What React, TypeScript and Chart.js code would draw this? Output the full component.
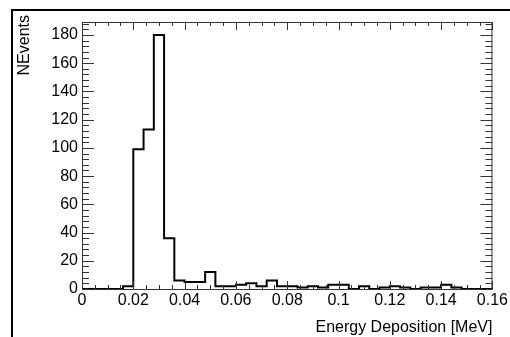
import React, { useEffect, useRef } from "react";
import { Chart, registerables } from "chart.js";

Chart.register(...registerables);

// Histogram bin edges (MeV), 40 bins of 0.004
const binEdges = [
  0, 0.004, 0.008, 0.012, 0.016, 0.02, 0.024, 0.028, 0.032, 0.036,
  0.04, 0.044, 0.048, 0.052, 0.056, 0.06, 0.064, 0.068, 0.072, 0.076,
  0.08, 0.084, 0.088, 0.092, 0.096, 0.1, 0.104, 0.108, 0.112, 0.116,
  0.12, 0.124, 0.128, 0.132, 0.136, 0.14, 0.144, 0.148, 0.152, 0.156, 0.16,
];

// Counts per bin
const counts = [
  0, 0, 0, 0, 2, 99, 113, 180, 36, 6,
  5, 5, 12, 2, 2, 3, 4, 2, 6, 2,
  2, 1, 2, 1, 3, 3, 0, 2, 0, 1,
  2, 1, 0, 1, 1, 3, 1, 0, 0, 0,
];

const xTickValues = [0, 0.02, 0.04, 0.06, 0.08, 0.1, 0.12, 0.14, 0.16];
const xTickLabels = ["0", "0.02", "0.04", "0.06", "0.08", "0.1", "0.12", "0.14", "0.16"];
const yTickValues = [0, 20, 40, 60, 80, 100, 120, 140, 160, 180];
const yTickLabels = ["0", "20", "40", "60", "80", "100", "120", "140", "160", "180"];

const xTitle = "Energy Deposition [MeV]";
const yTitle = "NEvents";

const X_MIN = 0;
const X_MAX = 0.16;
const Y_MIN = 0;
const Y_MAX = 189.2;
const X_MINOR = 0.005;
const Y_MINOR = 4;

const FONT = '"Liberation Sans", Arial, Helvetica, sans-serif';

const framePlugin = {
  id: "rootFrame",
  afterDraw(chart: any) {
    const { ctx, chartArea } = chart;
    const { left, right, top, bottom } = chartArea;
    const xs = chart.scales.x;
    const ys = chart.scales.y;
    ctx.save();
    ctx.strokeStyle = "#333";
    ctx.lineWidth = 1;
    ctx.strokeRect(left + 0.5, top + 0.5, right - left - 1, bottom - top);

    ctx.beginPath();
    const nx = Math.round((X_MAX - X_MIN) / X_MINOR);
    for (let i = 0; i <= nx; i++) {
      const v = X_MIN + i * X_MINOR;
      const isMajor = xTickValues.some((t) => Math.abs(t - v) < 1e-9);
      const len = isMajor ? 8 : 4;
      const px = Math.round(xs.getPixelForValue(v)) + 0.5;
      ctx.moveTo(px, bottom);
      ctx.lineTo(px, bottom - len);
      ctx.moveTo(px, top);
      ctx.lineTo(px, top + len);
    }
    for (let v = Y_MIN; v <= Y_MAX; v += Y_MINOR) {
      const isMajor = yTickValues.includes(v);
      const len = isMajor ? 12 : 7;
      const py = Math.round(ys.getPixelForValue(v)) + 0.5;
      ctx.moveTo(left, py);
      ctx.lineTo(left + len, py);
      ctx.moveTo(right, py);
      ctx.lineTo(right - len, py);
    }
    ctx.stroke();

    ctx.fillStyle = "#000";
    ctx.font = `16px ${FONT}`;
    ctx.translate(25, 15);
    ctx.rotate(-Math.PI / 2);
    ctx.textAlign = "right";
    ctx.textBaseline = "middle";
    ctx.fillText(yTitle, 0, 0);
    ctx.restore();
  },
};

export default function App() {
  const canvasRef = useRef<HTMLCanvasElement | null>(null);

  useEffect(() => {
    const canvas = canvasRef.current;
    if (!canvas) return;
    const points = binEdges.map((e, i) => ({
      x: e,
      y: counts[Math.min(i, counts.length - 1)],
    }));
    const chart = new Chart(canvas, {
      type: "line",
      data: {
        datasets: [
          {
            data: points,
            stepped: "before",
            borderColor: "#000",
            borderWidth: 2,
            pointRadius: 0,
            fill: false,
          },
        ],
      },
      options: {
        responsive: false,
        animation: false,
        layout: { padding: { left: 0, right: 15, top: 22, bottom: 0 } },
        plugins: {
          legend: { display: false },
          tooltip: { enabled: false },
        },
        scales: {
          x: {
            type: "linear",
            min: X_MIN,
            max: X_MAX,
            grid: { display: false, drawTicks: false },
            border: { display: false },
            afterBuildTicks: (scale: any) => {
              scale.ticks = xTickValues.map((v) => ({ value: v }));
            },
            afterFit: (scale: any) => {
              scale.height = 48;
            },
            ticks: {
              autoSkip: false,
              maxRotation: 0,
              padding: 2,
              color: "#000",
              font: { family: FONT, size: 16 },
              callback: (_v: any, i: number) => xTickLabels[i],
            },
            title: {
              display: true,
              text: xTitle,
              align: "end",
              color: "#000",
              font: { family: FONT, size: 16 },
              padding: { top: 0, bottom: 0 },
            },
          },
          y: {
            type: "linear",
            min: Y_MIN,
            max: Y_MAX,
            grid: { display: false, drawTicks: false },
            border: { display: false },
            afterBuildTicks: (scale: any) => {
              scale.ticks = yTickValues.map((v) => ({ value: v }));
            },
            afterFit: (scale: any) => {
              scale.width = 82;
            },
            ticks: {
              autoSkip: false,
              padding: 4,
              color: "#000",
              font: { family: FONT, size: 16 },
              callback: (_v: any, i: number) => yTickLabels[i],
            },
          },
        },
      },
      plugins: [framePlugin],
    });
    return () => chart.destroy();
  }, []);

  return (
    <div
      style={{
        position: "fixed",
        left: 0,
        top: 0,
        width: 510,
        height: 337,
        overflow: "hidden",
        background: "#fff",
      }}
    >
      <canvas
        ref={canvasRef}
        width={510}
        height={337}
        style={{ position: "absolute", left: 0, top: 0, width: 510, height: 337 }}
      />
      <div
        style={{
          position: "absolute",
          left: 11,
          top: 9,
          width: 600,
          height: 400,
          borderLeft: "2px solid #000",
          borderTop: "2px solid #000",
          pointerEvents: "none",
        }}
      />
    </div>
  );
}
